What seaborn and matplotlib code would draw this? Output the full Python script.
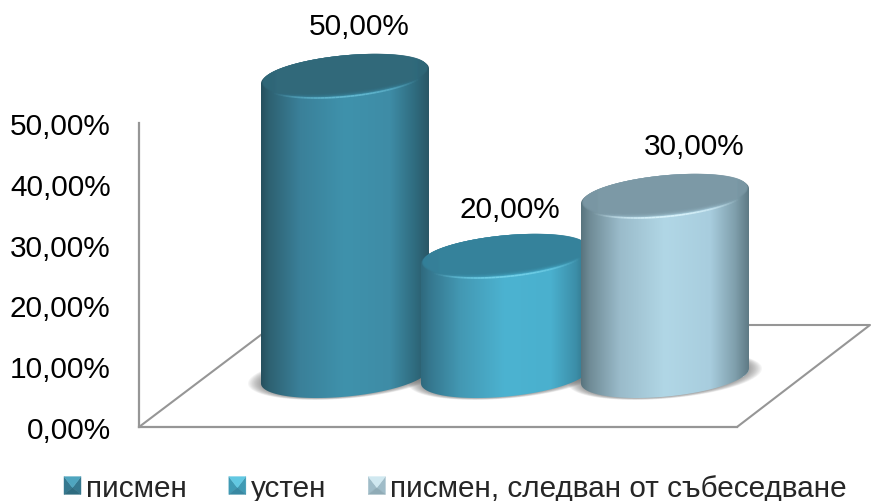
import matplotlib
matplotlib.use("Agg")
import matplotlib.pyplot as plt
import numpy as np
import pandas as pd
import seaborn as sns
from matplotlib.collections import LineCollection
from matplotlib.colors import LinearSegmentedColormap
from matplotlib.legend_handler import HandlerBase
from matplotlib.lines import Line2D
from matplotlib.patches import Patch, Polygon
from matplotlib.transforms import Affine2D

# data
categories = ["писмен", "устен", "писмен, следван от събеседване"]
values = [50.0, 20.0, 30.0]
tick_values = [0, 10, 20, 30, 40, 50]
tick_labels = ["0,00%", "10,00%", "20,00%", "30,00%", "40,00%", "50,00%"]

# styles
stop_pos = [0, 0.05, 0.23, 0.5, 0.77, 0.92, 1]
body_stops = [
    ["#25505e", "#2e6272", "#3a8099", "#3f92ac", "#3e8ca6", "#2f6b7e", "#2a5766"],
    ["#2f6a7e", "#35778e", "#4398b3", "#4cb3d1", "#4ab0ce", "#3c8ea8", "#2f6a7e"],
    ["#58747e", "#6f8b96", "#9abbca", "#b1d7e6", "#a8cdde", "#7f9fac", "#5f7a85"],
]
cap_faces = ["#31697a", "#35829b", "#7c99a6"]
highlights = ["#63b8d0", "#72d0e8", "#d8f2fa"]
bevels = [
    ("#4fa5bf", "#35788f", "#2f6c80"),
    ("#62c8e2", "#3f9ab4", "#3888a2"),
    ("#d0e8f0", "#9fbcc8", "#8fabb6"),
]
label_offsets = [(14, 50), (5, 47), (29, 50)]  # px from top of cylinder

W, H = 871, 502
PX_CAT, PX_PCT = 160, 6
X0, Y0 = 345, 377
RX, SHEAR, RY = 84, 7.5, 20.7

sns.set_theme(style="white")
plt.rcParams["font.family"] = ["Liberation Sans", "DejaVu Sans"]
FS = 21.4

fig = plt.figure(figsize=(W / 100, H / 100), dpi=100, facecolor="white")

# back wall: the value axis and the front floor edge
wall = fig.add_axes([139 / W, (H - 428) / H, (737 - 139) / W, (428 - 124) / H], zorder=0)
wall.set_xlim(0, 1)
wall.set_ylim(tick_values[0], tick_values[-1])
wall.set_yticks(tick_values)
wall.set_yticklabels(tick_labels, fontsize=FS, color="black")
wall.set_xticks([])
wall.tick_params(axis="y", length=0, pad=20.5)
wall.patch.set_alpha(0)
sns.despine(ax=wall, top=True, right=True)
for side in ("left", "bottom"):
    wall.spines[side].set_color("#969696")
    wall.spines[side].set_linewidth(1.6)

px = Affine2D().scale(1, -1).translate(0, H)
floor_x = [139, 274, 870, 737]
floor_y = [428, 326, 326, 428]
fig.add_artist(Line2D(floor_x, floor_y, transform=px, color="#969696", lw=1.5, zorder=0.5))

# cylinders
ax = fig.add_axes([0, 0, 1, 1], zorder=1)
ax.patch.set_alpha(0)
df = pd.DataFrame({"category": categories, "value": values})
sns.barplot(data=df, x="category", y="value", hue="category", palette=[s[3] for s in body_stops],
            width=RX * 2 / PX_CAT, saturation=1, legend=False, ax=ax)


def ellipse_xy(cx, cy, t, a=RX, b=RY, s=SHEAR):
    """Sheared ellipse outline; cx in categories, cy in percent."""
    x = cx + a * np.cos(t) / PX_CAT
    y = cy + (s * np.cos(t) + b * np.sin(t)) / PX_PCT
    return np.column_stack([x, y])


t_full = np.linspace(0, 2 * np.pi, 200)
t_low = np.linspace(np.pi, 2 * np.pi, 100)
bars = list(ax.patches[:len(values)])

# soft shadows under the feet
for bar in bars:
    cx = bar.get_x() + bar.get_width() / 2
    for f in np.linspace(1, 0, 12):
        xy = ellipse_xy(cx, 0, t_full, a=RX + 13 * f, b=RY + 2 * f)
        ax.add_patch(Polygon(xy, closed=True, fc="#555555", ec="none", alpha=0.06, zorder=1.5))

for i, bar in enumerate(bars):
    cx = bar.get_x() + bar.get_width() / 2
    top = bar.get_height()
    left, right = bar.get_x(), bar.get_x() + bar.get_width()
    z = 2 + i
    cmap = LinearSegmentedColormap.from_list(f"body{i}", list(zip(stop_pos, body_stops[i])))
    grad = np.linspace(0, 1, 256)[None, :]
    ymin, ymax = -5, top + 5

    foot = ellipse_xy(cx, 0, t_low)
    rim_l = ellipse_xy(cx, top, np.array([np.pi]))
    rim_r = ellipse_xy(cx, top, np.array([0.0]))
    body = Polygon(np.vstack([rim_l, foot, rim_r]), closed=True, fc="none", ec="none")
    ax.add_patch(body)
    bar.set_zorder(z)
    bar.set_clip_path(body)
    im = ax.imshow(grad, extent=(left, right, ymin, ymax), cmap=cmap, aspect="auto", zorder=z + 0.1)
    im.set_clip_path(body)

    # top cap: body gradient as the rim, darker face stacked over it
    outline = Polygon(ellipse_xy(cx, top, t_full), closed=True, fc="none", ec="none")
    ax.add_patch(outline)
    im2 = ax.imshow(grad, extent=(left, right, ymin, ymax), cmap=cmap, aspect="auto", zorder=z + 0.2)
    im2.set_clip_path(outline)
    for f in np.linspace(0, 1, 10):
        d = 1 + 5 * f
        xy = ellipse_xy(cx, top + d / 2 / PX_PCT, t_full, a=RX - 1 - 2 * f, b=RY - d / 2)
        ax.add_patch(Polygon(xy, closed=True, fc=cap_faces[i], ec="none", alpha=0.3, zorder=z + 0.3))

    # bright line along the front edge
    t_line = np.linspace(1.15 * np.pi, 1.85 * np.pi, 50)
    pts = ellipse_xy(cx, top, t_line)
    segs = np.stack([pts[:-1], pts[1:]], axis=1)
    alphas = np.sin((t_line[:-1] - 1.15 * np.pi) / (0.7 * np.pi) * np.pi) ** 1.5
    rgba = np.tile(matplotlib.colors.to_rgba(highlights[i]), (len(segs), 1))
    rgba[:, 3] = alphas
    ax.add_collection(LineCollection(segs, colors=rgba, linewidths=1.2, zorder=z + 0.4))

    dx, dy = label_offsets[i]
    ax.annotate(f"{values[i]:.2f}".replace(".", ",") + "%", xy=(cx, top),
                xytext=(dx * 0.72, dy * 0.72), textcoords="offset points",
                ha="center", va="center", fontsize=FS, color="black", zorder=10)

ax.set_xlim(-X0 / PX_CAT, (W - X0) / PX_CAT)
ax.set_ylim(-(H - Y0) / PX_PCT, Y0 / PX_PCT)
ax.axis("off")


class BevelHandler(HandlerBase):
    """Legend key drawn as a small bevelled square."""

    def create_artists(self, legend, orig_handle, xd, yd, w, h, fontsize, trans):
        tone = orig_handle.bevel
        x0, y0 = -xd, -yd
        x1, y1 = x0 + w, y0 + h
        apex = (x0 + w / 2, y1 - 0.62 * h)
        faces = [
            ([(x0, y0), (x0, y1), apex], tone[1]),
            ([(x1, y0), (x1, y1), apex], tone[1]),
            ([(x0, y0), (x1, y0), apex], tone[2]),
            ([(x0, y1), (x1, y1), apex], tone[0]),
        ]
        return [Polygon(p, closed=True, fc=c, ec=c, lw=0.3, transform=trans) for p, c in faces]


handles = []
for i, name in enumerate(categories):
    h = Patch(label=name)
    h.bevel = bevels[i]
    handles.append(h)

em = FS * 100 / 72
ax.legend(handles=handles, labels=categories, ncol=3, frameon=False, fontsize=FS,
          loc="center left", bbox_to_anchor=(64 / W, (H - 489) / H), borderpad=0, borderaxespad=0,
          handlelength=17 / em, handleheight=16 / em, handletextpad=5 / em, columnspacing=42 / em,
          handler_map={Patch: BevelHandler()})

fig.savefig("out.png", dpi=100)
